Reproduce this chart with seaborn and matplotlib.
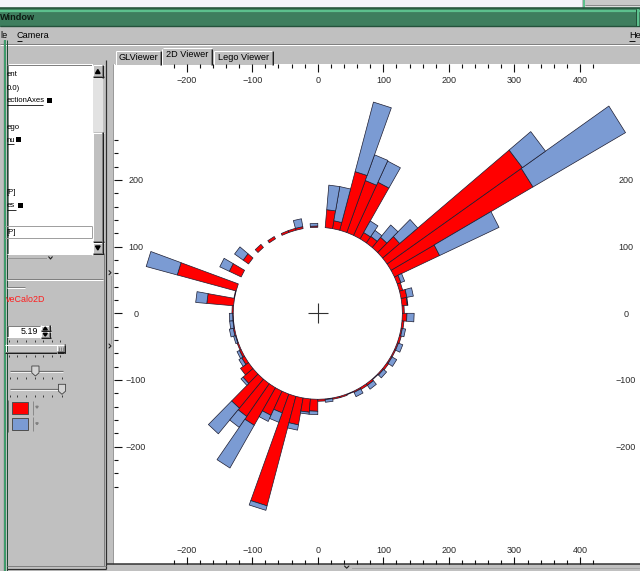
import numpy as np
import matplotlib
matplotlib.use("Agg")
import matplotlib.pyplot as plt
from matplotlib.patches import Rectangle, Polygon
from matplotlib.collections import PolyCollection
from matplotlib.ticker import FixedLocator
import pandas as pd
import seaborn as sns

# ---------------------------------------------------------------- data
# calorimeter towers in rho-phi: 72 phi bins of 5 degrees each
phi_low = list(range(0, 360, 5))
phi_width = 5
# ECAL (red) and HCAL (blue) tower heights, in scene length units
ecal = [3, 8, 9, 5, 6, 76, 250, 252, 34, 20, 12, 11, 88, 83, 91, 12, 27, 0,
        2, 0, 3, 3, 3, 0, 4, 0, 6, 0, 10, 0, 20, 0, 93, 1, 41, 2,
        1, 1, 2, 1, 2, 3, 5, 15, 20, 57, 60, 65, 40, 30, 170, 41, 20, 18,
        3, 1, 2, 2, 1, 2, 3, 3, 1, 2, 3, 2, 2, 2, 3, 2, 3, 7]
hcal = [0, 1, 10, 0, 6, 100, 163, 43, 36, 24, 11, 20, 35, 41, 108, 52, 37, 0,
        4, 0, 12, 0, 0, 0, 0, 0, 0, 0, 16, 0, 16, 0, 49, 0, 17, 0,
        5, 5, 6, 3, 0, 4, 5, 0, 4, 50, 20, 74, 10, 15, 7, 8, 3, 5,
        0, 4, 0, 0, 0, 7, 0, 7, 0, 6, 0, 8, 0, 7, 0, 5, 0, 11]
barrel_radius = 129

x_major = [-200, -100, 0, 100, 200, 300, 400]
y_major = [-200, -100, 0, 100, 200]
x_minor = list(range(-220, 421, 20))
y_minor = list(range(-260, 261, 20))

tab_names = ["GLViewer", "2D Viewer", "Lego Viewer"]
menu_items = ["le", "Camera", "He"]
tree_items = ["ent", "0.0)", "ectionAxes", "ego", "nu", "[P]", "es", "[P]"]

RED = "#ff0000"
BLUE = "#7b9bd3"
GREY = "#c0c0c0"

sns.set_theme(style="white")
plt.rcParams["font.family"] = ["Liberation Sans", "DejaVu Sans"]

towers = pd.DataFrame({"phi": phi_low, "ecal": ecal, "hcal": hcal})

fig = plt.figure(figsize=(6.4, 5.71), dpi=100, facecolor=GREY)

# ------------------------------------------------- window frame (pixel space)
gui = fig.add_axes([0, 0, 1, 1])
gui.set_xlim(0, 640)
gui.set_ylim(571, 0)
gui.axis("off")
PX = 0.72  # one pixel in points


def box(x0, y0, x1, y1, fc, ec="none", lw=0.0, z=1):
    gui.add_patch(Rectangle((x0, y0), x1 - x0, y1 - y0, facecolor=fc,
                            edgecolor=ec, linewidth=lw * PX, zorder=z))


def hline(x0, x1, y, c, lw=1.0, z=3, ls="-"):
    gui.plot([x0, x1], [y, y], color=c, lw=lw * PX, ls=ls, zorder=z,
             solid_capstyle="butt")


def vline(x, y0, y1, c, lw=1.0, z=3, ls="-"):
    gui.plot([x, x], [y0, y1], color=c, lw=lw * PX, ls=ls, zorder=z,
             solid_capstyle="butt")


def raised(x0, y0, x1, y1, fc=GREY, z=2):
    box(x0, y0, x1, y1, fc, z=z)
    hline(x0, x1, y0 + 0.5, "white", z=z + 1)
    vline(x0 + 0.5, y0, y1, "white", z=z + 1)
    hline(x0, x1, y1 - 1.5, "#808080", z=z + 1)
    vline(x1 - 1.5, y0, y1, "#808080", z=z + 1)
    hline(x0, x1, y1 - 0.5, "#202020", z=z + 1)
    vline(x1 - 0.5, y0, y1, "#202020", z=z + 1)


def sunken(x0, y0, x1, y1, fc="white", z=2):
    box(x0, y0, x1, y1, fc, z=z)
    hline(x0, x1, y0 + 0.5, "#808080", z=z + 1)
    vline(x0 + 0.5, y0, y1, "#808080", z=z + 1)
    hline(x0, x1, y1 - 0.5, "white", z=z + 1)
    vline(x1 - 0.5, y0, y1, "white", z=z + 1)


def label(x, y, s, size=6.6, color="black", ha="left", weight="normal", z=5):
    gui.text(x, y, s, fontsize=size, color=color, ha=ha, va="center",
             fontweight=weight, zorder=z)


# strip of the desktop above the window
box(0, 0, 582, 7.5, "#f4f4fb")
box(585, 0, 640, 4.5, "#c8c8c8")
hline(585, 640, 5, "#8a8a8a")
box(585, 5.5, 640, 7.5, "#dcdcdc")
vline(582.5, 0, 8, "#24523b")
vline(584, 0, 8, "#5cc08d", lw=2)

# title bar
box(0, 7.5, 640, 26.5, "#3e7e5e")
hline(0, 640, 8.3, "#24523b", lw=1.6)
hline(0, 640, 10.5, "#5cc08d", lw=2.2)
hline(0, 640, 25.8, "#24523b", lw=1.4)
vline(635.5, 9, 26, "#24523b")
vline(637.5, 9, 26, "#5cc08d", lw=2)
label(0.3, 17.5, "Window", size=6.6, color="#0c1a12", weight="bold")

# menu bar
label(0, 35.5, menu_items[0])
label(16.5, 35.5, menu_items[1])
hline(16.5, 22, 40.5, "black", lw=0.9)
label(629, 35.5, menu_items[2])
hline(629, 635, 40.5, "black", lw=0.9)
hline(0, 640, 44, "#808080")
hline(0, 640, 45, "white")

# viewer tabs
tab_boxes = [(115, 50, 161.5), (161.5, 47.5, 212.5), (213, 50, 273.5)]
for (x0, y0, x1), name in zip(tab_boxes, tab_names):
    box(x0, y0, x1, 64.5, GREY, z=2)
    hline(x0 + 1, x1 - 1, y0 + 0.5, "white")
    vline(x0 + 0.5, y0 + 1, 64.5, "white")
    vline(x1 - 1.5, y0 + 1, 64.5, "#808080")
    vline(x1 - 0.5, y0 + 1, 64.5, "#202020")
    label((x0 + x1) / 2, y0 + 7.3, name, ha="center")

# white drawing area of the 2D viewer
box(113.5, 64, 640, 563.5, "white", z=1)
vline(113, 64, 564, "#9a9a9a")
hline(107, 640, 564.3, "#303030", lw=1.5)
gui.plot([344.5, 346.7, 348.9], [566, 568.2, 566], color="#202020",
         lw=0.8, zorder=4)
hline(352, 640, 567.5, "#8a8a8a", ls=(0, (1, 1)))

# splitter strip between the panel and the viewer
for yc in (272.7, 346):
    gui.plot([109, 111, 109], [yc - 2, yc, yc + 2],
             color="#202020", lw=0.8, zorder=4)
vline(110.5, 276, 343, "#808080", ls=(0, (1, 1)))

# left-hand panel: green edge of the neighbouring window
vline(3.6, 40, 571, "#1f4a34", lw=1.2)
box(4.2, 40, 6.4, 571, "#3f9a6b", z=3)
vline(6.8, 40, 571, "#1f4a34", lw=1.0)

# list tree
sunken(7, 64.3, 92.5, 254.5)
raised(92.5, 64.8, 103.5, 77.5)
raised(92.5, 132, 103.5, 242)
raised(92.5, 242, 103.5, 254)
box(92.5, 77.5, 103, 132, "#e2e2e2", z=2)
gui.add_patch(Polygon([(95.5, 73.5), (97.8, 69.5), (100.1, 73.5)],
                      closed=True, color="black", zorder=4))
gui.add_patch(Polygon([(95.5, 246), (97.8, 250), (100.1, 246)],
                      closed=True, color="black", zorder=4))

tree_y = [74.5, 88, 101, 127.3, 140, 192.7, 205.7, 232]
for s, y in zip(tree_items, tree_y):
    label(6.5, y, s, size=5.6)
for x0, x1, y, sq in [(6.5, 43, 105, 46.7), (6.5, 13.5, 144, 16), (6.5, 15.5, 209.7, 18.3)]:
    hline(x0, x1, y, "black", lw=0.8)
    box(sq, y - 6.8, sq + 5, y - 1.8, "black", z=4)
hline(5, 92, 225.7, "#a0a0a0")
hline(5, 92, 237.7, "#a0a0a0")
vline(91.7, 225.7, 237.7, "#a0a0a0")

# splitter under the tree
hline(7, 47, 258, "#707070", ls=(0, (1, 1)))
gui.plot([48.7, 50.5, 52.3], [256.8, 259, 256.8], color="#202020", lw=0.8, zorder=4)

# editor frame
hline(7, 103, 279, "#808080")
hline(7, 103, 280, "white")
hline(7, 25, 286.5, "#808080")
hline(7, 25, 287.5, "white")
label(6, 299, "veCalo2D", size=6.4, color="#ff1c1c")

# numeric entry with spin buttons
sunken(7, 325.5, 40.5, 337.5)
label(38.5, 331.5, "5.19", size=6.4, ha="right")
raised(40.5, 325, 50.5, 331.5)
raised(40.5, 331.5, 50.5, 338)
gui.add_patch(Polygon([(43.3, 329.8), (45.3, 327), (47.3, 329.8)], closed=True,
                      color="black", zorder=5))
gui.add_patch(Polygon([(43.3, 333.3), (45.3, 336.1), (47.3, 333.3)], closed=True,
                      color="black", zorder=5))

# slider bars
raised(5, 344, 65, 353, fc="#c6c6c6")
raised(56.5, 344.5, 65, 352.5)
for xs in [58.5, 60.5, 62.5]:
    vline(xs, 346.5, 350.5, "#707070", lw=0.7, z=5)
tick_x1 = [8.5, 17, 26, 34.5, 43, 51.5, 59.5]
for xt in tick_x1:
    vline(xt, 340, 342, "#303030", lw=0.9)
    vline(xt, 355, 357.3, "#303030", lw=0.9)
for yg, thumb_x, ty in [(370.5, 31.8, 366), (389, 58.4, 384.3)]:
    hline(10, 63, yg, "#707070", lw=1.2)
    hline(10, 63, yg + 1.2, "white", lw=0.8)
    gui.add_patch(Polygon([(thumb_x, ty), (thumb_x + 7.2, ty), (thumb_x + 7.2, ty + 6.8),
                           (thumb_x + 3.6, ty + 10), (thumb_x, ty + 6.8)], closed=True,
                          facecolor="#d4d4d4", edgecolor="#404040",
                          linewidth=0.6, zorder=6))
    for xt in [10, 17.3, 26, 35, 43.3, 51.7, 61.7]:
        vline(xt, ty + 11, ty + 13, "#303030", lw=0.9)

# colour selectors for the two calorimeter layers
vline(7.5, 400, 432, "#707070")
for y0, c in [(401.5, RED), (418, BLUE)]:
    box(11.5, y0, 27.5, y0 + 12, c, ec="#505050", lw=1.0, z=4)
    vline(32.5, y0 - 1, y0 + 13, "#8a8a8a")
    gui.add_patch(Polygon([(35.8, y0 + 4.8), (38.2, y0 + 4.8), (37, y0 + 6.6)],
                          closed=True, color="#808080", zorder=5))

# panel bevel
vline(103.6, 254, 566, "#808080")
vline(105.8, 60, 568.5, "#303030", lw=1.2)
hline(7, 106, 566, "#808080")
hline(7, 106, 568.5, "#303030", lw=1.2)

# ------------------------------------------------------------ 2D view
L, R, T, B = 113.5, 648.5, 64.0, 563.5          # viewport in pixels
ax = fig.add_axes([L / 640, (571 - B) / 571, (R - L) / 640, (B - T) / 571])
ax.set_facecolor("none")
sx, sy = 0.6556, 0.6667                          # pixels per scene unit
cx, cy = 317.8, 313.3
ax.set_xlim((L - cx) / sx, (R - cx) / sx)
ax.set_ylim((cy - B) / sy, (cy - T) / sy)
for sp in ax.spines.values():
    sp.set_visible(False)
ax.grid(False)


def wedge(p0, p1, r0, r1):
    a0, a1 = np.radians([p0, p1])
    return [(r0 * np.cos(a0), r0 * np.sin(a0)), (r1 * np.cos(a0), r1 * np.sin(a0)),
            (r1 * np.cos(a1), r1 * np.sin(a1)), (r0 * np.cos(a1), r0 * np.sin(a1))]


ecal_polys, hcal_polys = [], []
for _, t in towers.iterrows():
    p0, p1 = t.phi, t.phi + phi_width
    r_e = barrel_radius + t.ecal
    if t.ecal > 0:
        ecal_polys.append(wedge(p0, p1, barrel_radius, r_e))
    if t.hcal > 0:
        hcal_polys.append(wedge(p0, p1, r_e, r_e + t.hcal))

ax.add_collection(PolyCollection(ecal_polys, facecolor=RED, edgecolor="#1c1c30",
                                 linewidth=0.5, zorder=3))
ax.add_collection(PolyCollection(hcal_polys, facecolor=BLUE, edgecolor="#1c1c30",
                                 linewidth=0.5, zorder=3))

# camera centre marker
sns.scatterplot(x=[0], y=[0], marker="+", s=205, color="#303030",
                linewidth=0.8, ax=ax, legend=False, zorder=4)

tick_style = dict(direction="in", color="#101010", width=0.8, labelsize=6.5,
                  labelcolor="#2a2a2a")

# bottom, left and right scales live on the main axes
ax.xaxis.set_major_locator(FixedLocator(x_major))
ax.xaxis.set_minor_locator(FixedLocator([v for v in x_minor if v not in x_major]))
ax.yaxis.set_major_locator(FixedLocator(y_major))
ax.yaxis.set_minor_locator(FixedLocator([v for v in y_minor if v not in y_major]))
ax.tick_params(which="both", top=False, bottom=True, left=True, right=True,
               labeltop=False, labelbottom=True, labelleft=True,
               labelright=True, **tick_style)
ax.tick_params(which="major", length=5.4)
ax.tick_params(which="minor", length=2.7)
ax.tick_params(axis="x", which="major", pad=-12.9)
ax.tick_params(axis="y", which="major", pad=-16.2)
for tk in ax.yaxis.get_major_ticks():
    tk.label1.set_horizontalalignment("center")
    tk.label2.set_horizontalalignment("center")

# top scale, with its own label offset
top = ax.secondary_xaxis("top")
top.spines["top"].set_visible(False)
top.xaxis.set_major_locator(FixedLocator(x_major))
top.xaxis.set_minor_locator(FixedLocator([v for v in x_minor if v not in x_major]))
top.tick_params(which="both", **tick_style)
top.tick_params(which="major", length=5.4, pad=-14.9)
top.tick_params(which="minor", length=2.7)

fig.savefig("out.png", dpi=100, facecolor=GREY)
